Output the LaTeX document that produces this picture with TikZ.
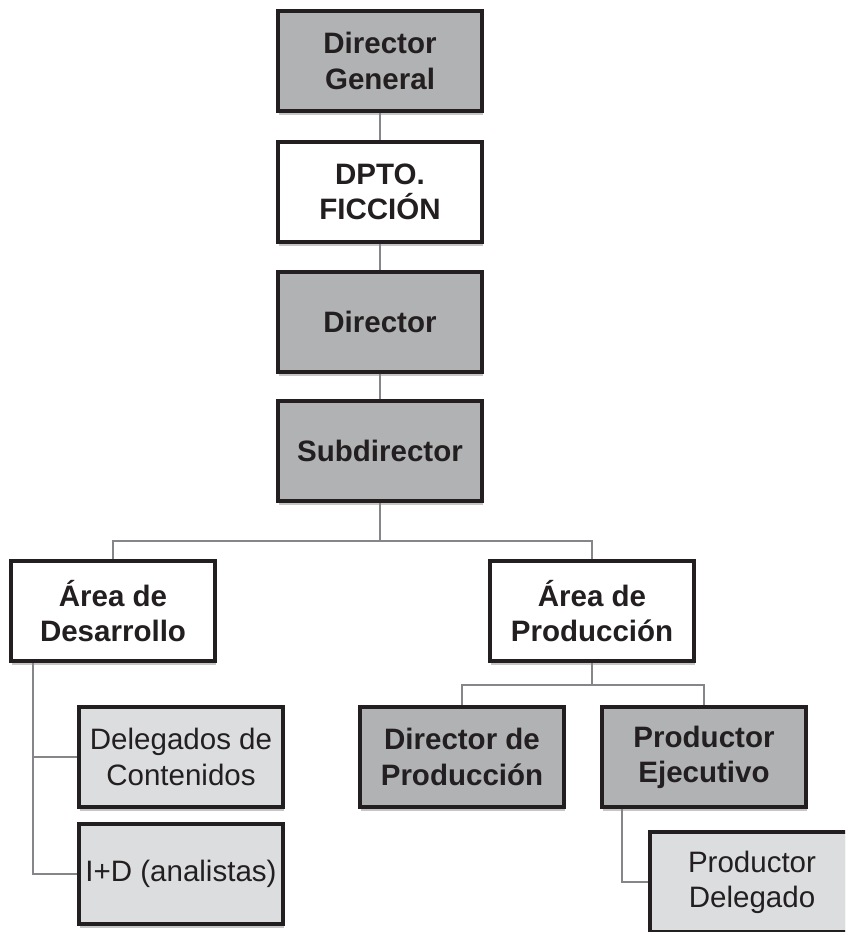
\documentclass[tikz,border=0pt]{standalone}
\usepackage{fontspec}
\setmainfont{Liberation Sans}
\usetikzlibrary{shadows}
\definecolor{boxDark}{HTML}{B1B2B4}
\definecolor{boxLight}{HTML}{DCDDDF}
\definecolor{lineGray}{HTML}{85868A}
\definecolor{inkDark}{HTML}{231F20}
\tikzset{
	unit/.style={draw=inkDark, line width=2pt, minimum width=4.08cm, minimum height=2.0cm,
		align=center, inner sep=0pt, text=inkDark, font=\fontsize{16.8}{20}\selectfont\bfseries,
		drop shadow={shadow xshift=0.8pt, shadow yshift=-2pt, opacity=0.45}},
	darkunit/.style={unit, fill=boxDark},
	whiteunit/.style={unit, fill=white},
	lightunit/.style={unit, fill=boxLight, font=\fontsize{16.8}{20}\selectfont},
	link/.style={draw=lineGray, line width=1.5pt}
}

\begin{document}
\begin{tikzpicture}[x=0.02cm, y=-0.02cm]
	\clip (0,0) rectangle (845,932);
	
	% main chain
	\node[darkunit] (dg) at (380, 61) {Director\\General};
	\node[whiteunit] (dpto) at (380, 192) {DPTO.\\FICCIÓN};
	\node[darkunit] (dir) at (380, 322) {Director};
	\node[darkunit] (sub) at (380, 451) {Subdirector};
	
	% areas
	\node[whiteunit] (desa) at (113, 611) {Área de\\Desarrollo};
	\node[whiteunit] (prod) at (592, 611) {Área de\\Producción};
	
	\node[lightunit] (dele) at (181, 757) {Delegados de\\Contenidos};
	\node[lightunit] (idd) at (181, 874) {I+D (analistas)};
	
	\node[darkunit] (dprod) at (462, 757) {Director de\\Producción};
	\node[darkunit] (ejec) at (704, 757) {Productor\\Ejecutivo};
	\node[lightunit] (pdel) at (752, 882) {Productor\\Delegado};
	
	\coordinate (split1) at (380, 541);
	\coordinate (split2) at (592, 685);
	\coordinate (trunk1) at (33, 0);
	\coordinate (trunk2) at (622, 0);
	
	\path[link] (dg) -- (dpto);
	\path[link] (dpto) -- (dir);
	\path[link] (dir) -- (sub);
	\path[link] (sub.south) -- (split1) -| (desa.north);
	\path[link] (split1) -| (prod.north);
	\path[link] (prod.south) -- (split2) -| (dprod.north);
	\path[link] (split2) -| (ejec.north);
	\path[link] (desa.south -| trunk1) |- (idd.west);
	\path[link] (trunk1 |- dele.west) -- (dele.west);
	\path[link] (ejec.south -| trunk2) |- (pdel.west);
\end{tikzpicture}
\end{document}
